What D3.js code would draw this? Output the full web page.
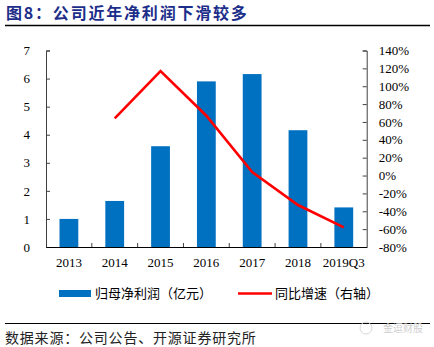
<!DOCTYPE html>
<html><head><meta charset="utf-8">
<script src="https://cdn.jsdelivr.net/npm/d3@7"></script>
<style>body{margin:0;background:#fff}svg{display:block}</style>
</head><body>
<script>
const categories = ["2013","2014","2015","2016","2017","2018","2019Q3"];
const profit = [1.0, 1.64, 3.59, 5.90, 6.16, 4.16, 1.41];
const growth = [null, 64, 117, 67, 4, -33, -58];
const leftTicks = [0,1,2,3,4,5,6,7];
const rightTicks = [-80,-60,-40,-20,0,20,40,60,80,100,120,140];
const title = "图8：公司近年净利润下滑较多";
const source = "数据来源：公司公告、开源证券研究所";
const legendNames = ["归母净利润（亿元）","同比增速（右轴）"];

const W=434,H=347;
const svg=d3.select("body").append("svg").attr("width",W).attr("height",H);
const cjk="'Noto Sans CJK SC','Noto Sans',sans-serif";
const serif="'Liberation Serif','Times New Roman',serif";

// title
svg.append("text").attr("x",6).attr("y",19).text(title)
  .attr("font-family",cjk).attr("font-weight","bold").attr("font-size",16)
  .attr("letter-spacing",1.8).attr("fill","#1c2e8a");
svg.append("line").attr("x1",5).attr("x2",430).attr("y1",25.5).attr("y2",25.5)
  .attr("stroke","#000").attr("stroke-width",1.3);

const x0=46,x1=366.7,yTop=50.5,yBot=247;
const x=d3.scaleBand().domain(categories).range([x0,x1]).paddingInner(0.59).paddingOuter(0.295);
const xc=d3.scaleBand().domain(categories).range([x0,x1]);
const yL=d3.scaleLinear().domain([0,7]).range([yBot,yTop]);
const yR=d3.scaleLinear().domain([-80,140]).range([yBot,yTop]);

// bars
svg.selectAll("rect.bar").data(profit).enter().append("rect")
  .attr("x",(d,i)=>x(categories[i])).attr("width",x.bandwidth())
  .attr("y",d=>yL(d)).attr("height",d=>yBot-yL(d)).attr("fill","#0070C0");

// line
const line=d3.line().defined(d=>d!=null)
  .x((d,i)=>xc(categories[i])+xc.bandwidth()/2).y(d=>yR(d));
svg.append("path").datum(growth).attr("d",line).attr("fill","none")
  .attr("stroke","#FF0000").attr("stroke-width",2.6).attr("stroke-linejoin","miter");

// left axis
const gl=svg.append("g").attr("transform",`translate(${x0},0)`)
  .call(d3.axisRight(yL).tickValues(leftTicks).tickSize(4).tickFormat(d3.format("d")));
gl.select(".domain").attr("stroke","#404040");
gl.selectAll(".tick line").attr("stroke","#404040");
gl.selectAll(".tick text").attr("x",-16).attr("text-anchor","end")
  .attr("font-family",serif).attr("font-size",13).attr("fill","#000");

// right axis
const gr=svg.append("g").attr("transform",`translate(${x1},0)`)
  .call(d3.axisLeft(yR).tickValues(rightTicks).tickSize(4).tickFormat(d=>d+"%"));
gr.select(".domain").attr("stroke","#404040");
gr.selectAll(".tick line").attr("stroke","#404040");
gr.selectAll(".tick text").attr("x",12).attr("text-anchor","start")
  .attr("font-family",serif).attr("font-size",13).attr("fill","#000");

// bottom axis
const gb=svg.append("g").attr("transform",`translate(0,${yBot})`)
  .call(d3.axisBottom(xc).tickSize(0));
gb.select(".domain").attr("stroke","#000");
gb.selectAll(".tick text").attr("dy",0).attr("y",20)
  .attr("font-family",serif).attr("font-size",13).attr("fill","#000");
// inner category boundary ticks
svg.selectAll("line.bt").data(categories.slice(1)).enter().append("line")
  .attr("x1",d=>xc(d)).attr("x2",d=>xc(d)).attr("y1",yBot).attr("y2",yBot-4)
  .attr("stroke","#404040");

// legend
svg.append("rect").attr("x",59).attr("y",290).attr("width",32).attr("height",7).attr("fill","#0070C0");
svg.append("text").attr("x",95).attr("y",298).text(legendNames[0])
  .attr("font-family",cjk).attr("font-size",13).attr("fill","#000");
svg.append("line").attr("x1",238).attr("x2",272).attr("y1",293.5).attr("y2",293.5)
  .attr("stroke","#FF0000").attr("stroke-width",2.5);
svg.append("text").attr("x",275).attr("y",298).text(legendNames[1])
  .attr("font-family",cjk).attr("font-size",13).attr("fill","#000");

// footer
svg.append("line").attr("x1",5).attr("x2",430).attr("y1",323.5).attr("y2",323.5)
  .attr("stroke","#000").attr("stroke-width",1.2);
svg.append("text").attr("x",5).attr("y",343).text(source)
  .attr("font-family",cjk).attr("font-size",14).attr("letter-spacing",0.8).attr("fill","#222");
svg.append("circle").attr("cx",366).attr("cy",328).attr("r",6).attr("fill","none").attr("stroke","#d8d8d8");
svg.append("text").attr("x",383).attr("y",332).text("金逗财股")
  .attr("font-family",cjk).attr("font-size",10).attr("fill","#cfcfcf");
</script>
</body></html>
